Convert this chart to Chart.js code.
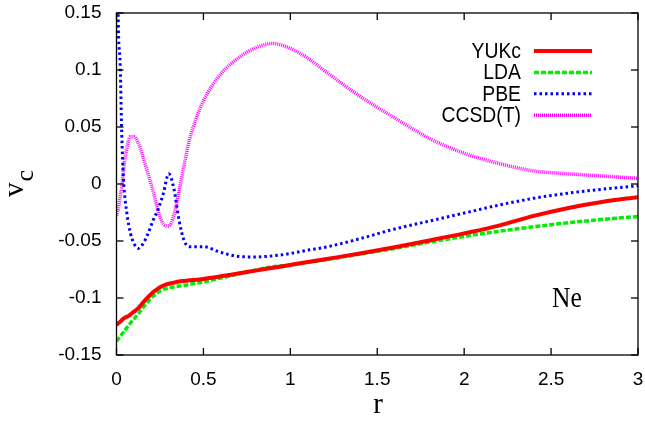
<!DOCTYPE html>
<html>
<head>
<meta charset="utf-8">
<script src="https://cdn.jsdelivr.net/npm/chart.js@4.4.1/dist/chart.umd.min.js"></script>
<style>
  html, body { margin: 0; padding: 0; background: #fff; }
  canvas { display: block; }
</style>
</head>
<body>
<canvas id="vcChart" width="645" height="426"></canvas>
<script>
// radial grid shared by all four curves (denser near the nucleus)
const rGrid = [0, 0.01, 0.02, 0.03, 0.04, 0.06, 0.08, 0.1, 0.125, 0.15, 0.18, 0.21, 0.24, 0.27, 0.3,
    0.33, 0.36, 0.39, 0.42, 0.46, 0.5, 0.6, 0.7, 0.8, 0.9, 1.0, 1.1, 1.2, 1.4, 1.6, 1.8, 2.0,
    2.2, 2.4, 2.6, 2.8, 3.0];

const yukc = [-0.124, -0.122, -0.121, -0.1195, -0.118, -0.1165, -0.1145, -0.112, -0.109, -0.1045,
    -0.0995, -0.095, -0.0915, -0.089, -0.0875, -0.0865, -0.0855, -0.085, -0.0845, -0.084, -0.0833,
    -0.081, -0.0785, -0.076, -0.0735, -0.071, -0.0685, -0.066, -0.061, -0.0555, -0.0495, -0.0433,
    -0.0365, -0.028, -0.021, -0.0155, -0.0115];

const lda = [-0.138, -0.136, -0.134, -0.132, -0.13, -0.126, -0.122, -0.1185, -0.114, -0.109,
    -0.1035, -0.0985, -0.095, -0.0925, -0.091, -0.0903, -0.0895, -0.089, -0.088, -0.087, -0.086,
    -0.0825, -0.079, -0.0755, -0.0725, -0.0712, -0.0688, -0.0665, -0.0615, -0.0565, -0.051, -0.046,
    -0.0415, -0.0375, -0.034, -0.031, -0.0285];

const pbe = [0.40, 0.145, 0.11, 0.045, 0.005, -0.026, -0.043, -0.052, -0.0565, -0.053,
    -0.044, -0.032, -0.022, -0.008, 0.009, -0.004, -0.032, -0.05, -0.055, -0.055, -0.055,
    -0.06, -0.0635, -0.064, -0.063, -0.061, -0.058, -0.0555, -0.048, -0.0395, -0.0325, -0.0255,
    -0.0185, -0.0125, -0.008, -0.0045, -0.0015];

const ccsdt = [-0.028, -0.022, -0.012, -0.003, 0.012, 0.032, 0.0415, 0.0415, 0.036, 0.025,
    0.01, -0.006, -0.024, -0.035, -0.037, -0.027, -0.006, 0.017, 0.039, 0.058, 0.073,
    0.0965, 0.1105, 0.1195, 0.1232, 0.119, 0.1105, 0.099, 0.077, 0.058, 0.04, 0.027,
    0.018, 0.0115, 0.009, 0.007, 0.005];

const seriesNames = ["YUKc", "LDA", "PBE", "CCSD(T)"];
const xTickLabels = ["0", "0.5", "1", "1.5", "2", "2.5", "3"];
const yTickLabels = ["-0.15", "-0.1", "-0.05", "0", "0.05", "0.1", "0.15"];

const toPoints = vals => vals.map((v, i) => ({ x: rGrid[i], y: v }));

const line = (label, vals, color, width, dash) => ({
    label,
    data: toPoints(vals),
    borderColor: color,
    borderWidth: width,
    borderDash: dash,
    pointRadius: 0,
    fill: false,
    showLine: true,
    cubicInterpolationMode: "monotone"
});

// frame with inward ticks on all sides, key, atom label and axis titles
const decorations = {
    id: "decorations",
    afterDatasetsDraw(chart) {
        const { ctx, chartArea: a, scales: { x, y } } = chart;
        ctx.save();
        ctx.strokeStyle = "#000";
        ctx.lineWidth = 1.3;
        ctx.strokeRect(a.left, a.top, a.right - a.left, a.bottom - a.top);

        const seg = (x1, y1, x2, y2) => {
            ctx.beginPath();
            ctx.moveTo(x1, y1);
            ctx.lineTo(x2, y2);
            ctx.stroke();
        };
        x.ticks.forEach(t => {
            const px = x.getPixelForValue(t.value);
            seg(px, a.bottom, px, a.bottom - 7);
            seg(px, a.top, px, a.top + 7);
        });
        y.ticks.forEach(t => {
            const py = y.getPixelForValue(t.value);
            seg(a.left, py, a.left + 7, py);
            seg(a.right, py, a.right - 7, py);
        });

        // key
        ctx.font = "22px 'Liberation Sans', Arial, sans-serif";
        ctx.textBaseline = "middle";
        ctx.fillStyle = "#000";
        chart.data.datasets.forEach((ds, i) => {
            const ly = 51 + i * 21.4;
            ctx.save();
            ctx.translate(521, ly + 1);
            ctx.scale(0.88, 1);
            ctx.textAlign = "right";
            ctx.fillText(ds.label, 0, 0);
            ctx.restore();

            ctx.save();
            ctx.strokeStyle = ds.borderColor;
            ctx.lineWidth = ds.borderWidth;
            ctx.setLineDash(ds.borderDash || []);
            seg(534, ly, 592, ly);
            ctx.restore();
        });

        // atom label
        ctx.save();
        ctx.font = "29px 'Liberation Serif', 'Times New Roman', serif";
        ctx.textBaseline = "alphabetic";
        ctx.translate(552, 307);
        ctx.scale(0.88, 1);
        ctx.fillText("Ne", 0, 0);
        ctx.restore();

        // x title
        ctx.font = "29px 'Liberation Serif', 'Times New Roman', serif";
        ctx.textAlign = "center";
        ctx.textBaseline = "alphabetic";
        ctx.fillText("r", 378, 413);

        // y title: v with subscript c, rotated
        ctx.save();
        ctx.translate(23, 197);
        ctx.rotate(-Math.PI / 2);
        ctx.textAlign = "left";
        ctx.font = "29px 'Liberation Serif', 'Times New Roman', serif";
        ctx.fillText("v", 0, 0);
        const vw = ctx.measureText("v").width;
        ctx.font = "26px 'Liberation Serif', 'Times New Roman', serif";
        ctx.fillText("c", vw + 1, 10);
        ctx.restore();

        ctx.restore();
    }
};

new Chart(document.getElementById("vcChart"), {
    type: "scatter",
    data: {
        datasets: [
            line(seriesNames[0], yukc, "#ff0000", 4, []),
            line(seriesNames[1], lda, "#00ee00", 3.5, [5, 2]),
            line(seriesNames[2], pbe, "#0000ff", 3, [2.5, 3]),
            line(seriesNames[3], ccsdt, "#ff00ff", 3.5, [1, 1])
        ]
    },
    options: {
        responsive: false,
        animation: false,
        layout: { padding: { top: 13, right: 7, left: 0, bottom: 0 } },
        plugins: {
            legend: { display: false },
            tooltip: { enabled: false }
        },
        scales: {
            x: {
                type: "linear",
                min: 0,
                max: 3,
                afterFit: s => {
                    s.height = 71;
                    s.paddingLeft = 0;
                    s.paddingRight = 0;
                },
                grid: { display: false, drawTicks: false },
                border: { display: false },
                ticks: {
                    stepSize: 0.5,
                    padding: 13,
                    color: "#000",
                    font: { family: "'Liberation Sans', Arial, sans-serif", size: 19 },
                    callback: (v, i) => xTickLabels[i]
                }
            },
            y: {
                min: -0.15,
                max: 0.15,
                afterFit: s => {
                    s.width = 116.5;
                    s.paddingTop = 0;
                    s.paddingBottom = 0;
                },
                grid: { display: false, drawTicks: false },
                border: { display: false },
                ticks: {
                    stepSize: 0.05,
                    padding: 15,
                    color: "#000",
                    font: { family: "'Liberation Sans', Arial, sans-serif", size: 19 },
                    callback: (v, i) => yTickLabels[i]
                }
            }
        }
    },
    plugins: [decorations]
});
</script>
</body>
</html>
